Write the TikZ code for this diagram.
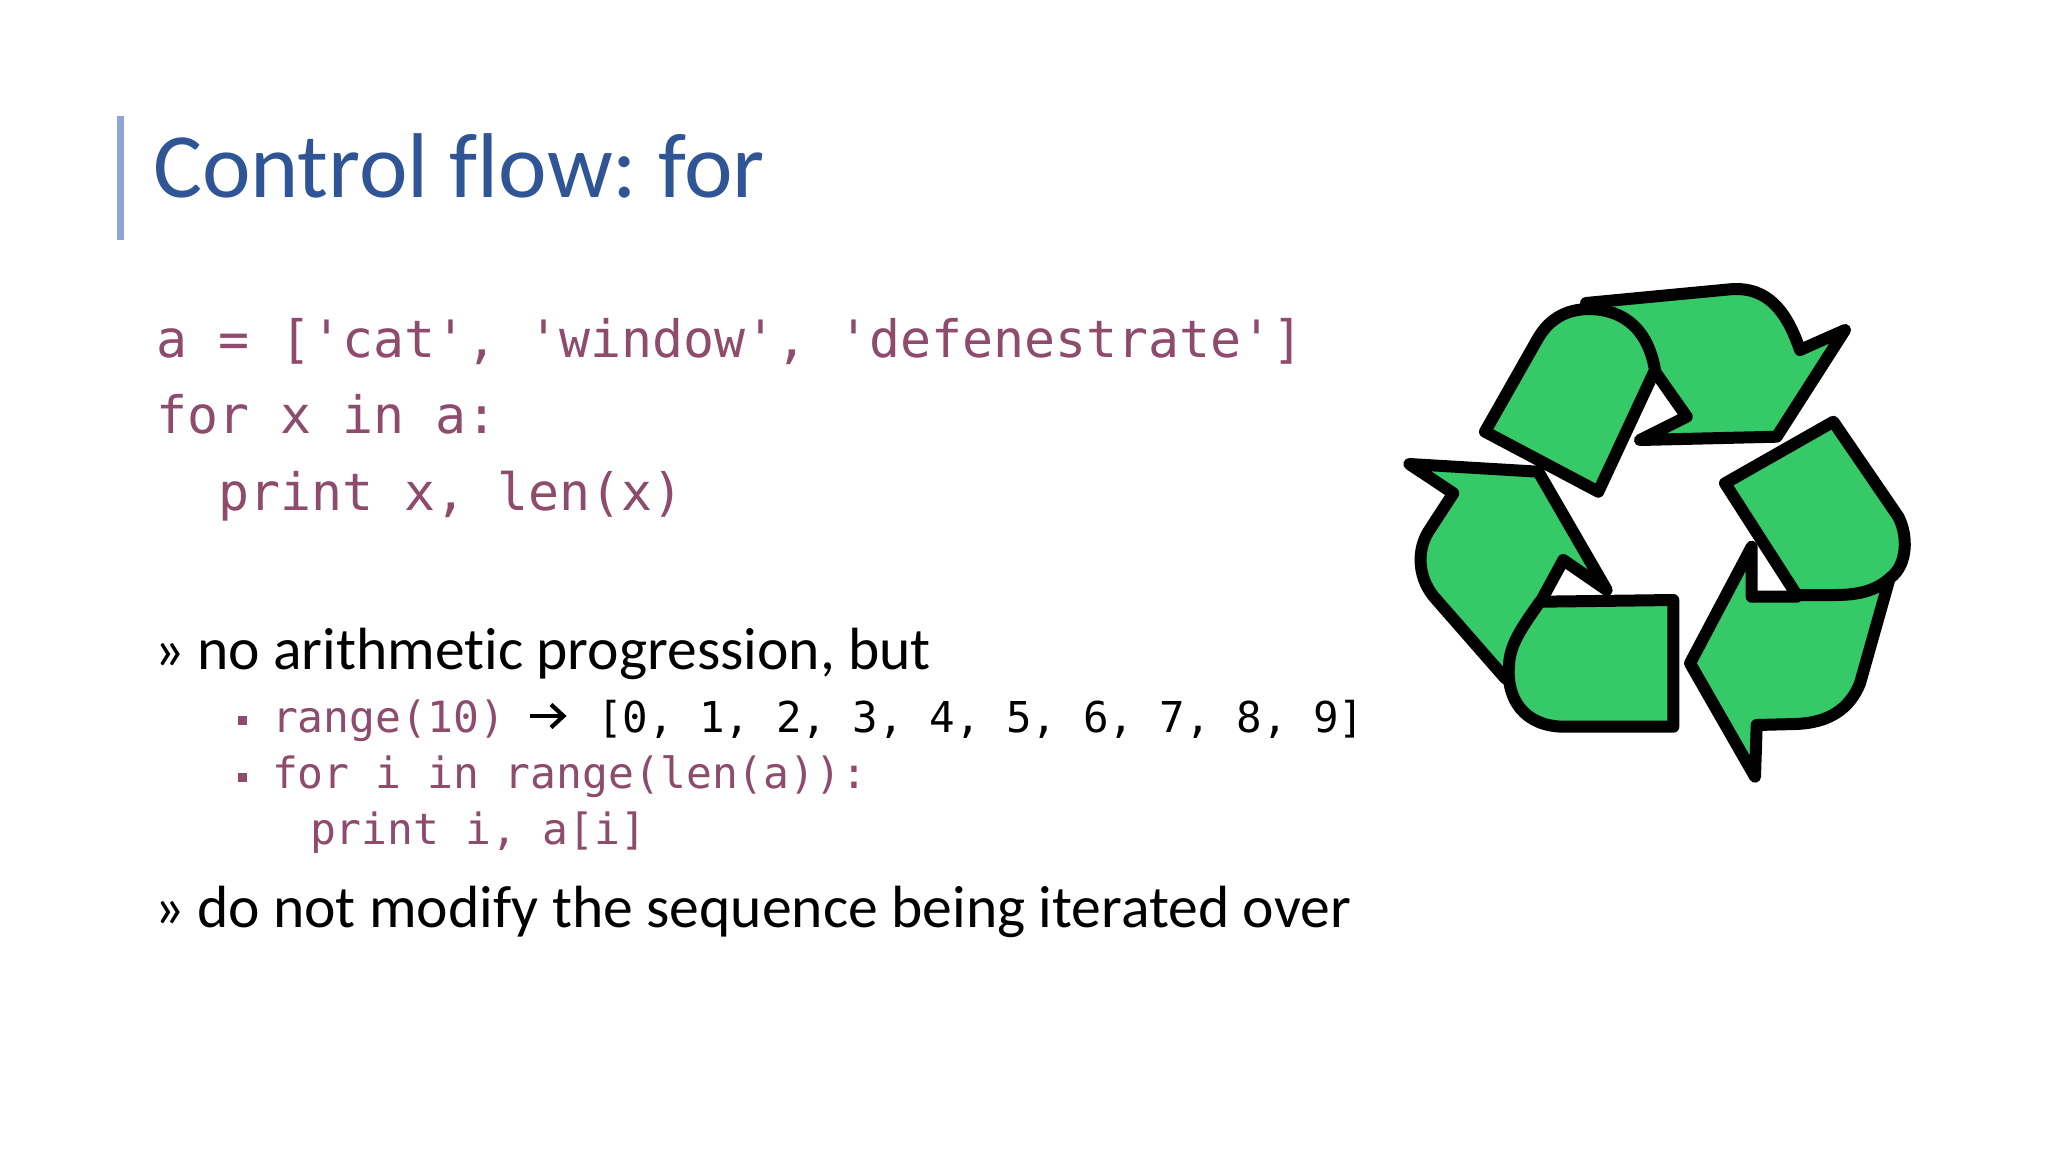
\documentclass[tikz,border=0pt]{standalone}
\usepackage{fontspec}
\setmainfont{Carlito}[Ligatures=NoCommon]
\setmonofont{DejaVu Sans Mono}
\frenchspacing
\definecolor{titleblue}{RGB}{47,85,151}
\definecolor{barblue}{RGB}{143,164,219}
\definecolor{codemauve}{RGB}{142,75,108}
\definecolor{recgreen}{RGB}{54,201,104}
\tikzset{
  txt/.style={anchor=base west, inner sep=0pt, outer sep=0pt},
  titletxt/.style={txt, text=titleblue, font=\fontsize{92bp}{100bp}\selectfont},
  bodytxt/.style={txt, text=black, font=\fontsize{59.6bp}{70bp}\selectfont},
  codebig/.style={txt, text=codemauve, font=\ttfamily\fontsize{51.5bp}{60bp}\selectfont},
  codesmall/.style={txt, text=codemauve, font=\ttfamily\fontsize{43bp}{50bp}\selectfont},
  sqbullet/.style={rectangle, fill=codemauve, inner sep=0pt, minimum size=9bp},
  arrowglyph/.style={draw=black, line width=4.2bp, line cap=butt, line join=miter},
  piece/.style={fill=recgreen, draw=black, line width=12bp, line join=round},
}
\begin{document}
\begin{tikzpicture}[x=1bp,y=-1bp]
\path[use as bounding box, fill=white] (0,0) rectangle (2048,1152);
% title bar
\fill[barblue] (117,115.5) rectangle (123.5,240);
\node[titletxt] (title) at (153,197) {Control flow: for};
% code
\node[codebig] (c1) at (156,357) {a = ['cat', 'window', 'defenestrate']};
\node[codebig] (c2) at (156,433) {for x in a:};
\node[codebig] (c3) at (218,510.5) {print x, len(x)};
% bullets
\node[bodytxt] (g1) at (154,669.5) {»};
\node[bodytxt] (b1) at (197,669.5) {no arithmetic progression, but};
\node[sqbullet] (s1) at (242,720.5) {};
\node[codesmall] (r1) at (272,732) {range(10)};
\coordinate (arrA) at (530,716);
\coordinate (arrB) at (562,716);
\draw[arrowglyph] (arrA) -- (arrB);
\draw[arrowglyph] (551,704.5) -- (563.5,716) -- (551,727.5);
\node[codesmall, text=black, font=\ttfamily\fontsize{42.5bp}{50bp}\selectfont] (r1b) at (597,732) {[0, 1, 2, 3, 4, 5, 6, 7, 8, 9]};
\node[sqbullet] (s2) at (242,777) {};
\node[codesmall] (r2) at (272,788.5) {for i in range(len(a)):};
\node[codesmall] (r3) at (310,844.5) {print i, a[i]};
\node[bodytxt] (g2) at (154,927) {»};
\node[bodytxt] (b2) at (197,927) {do not modify the sequence being iterated over};
% recycling symbol
\draw[piece] (1586,303) -- (1730,289.3) .. controls (1768,286) and (1787,312) .. (1800,350)
  -- (1845,330) -- (1776.7,436.7) -- (1640,440) -- (1686.7,416.7) -- (1656,373) -- (1625,345) -- cycle;
\draw[piece] (1485,431.7) -- (1598.3,491.7) -- (1655,370)
  .. controls (1648,330) and (1625,310) .. (1590,309)
  .. controls (1565,309) and (1548,320) .. (1537,340) -- cycle;
\draw[piece] (1409.3,464) -- (1538.3,471.7) -- (1606.7,590) -- (1563.3,560) -- (1541,601)
  -- (1565,650) -- (1535,695) -- (1505,678) -- (1436.7,600)
  .. controls (1418,580) and (1416,552) .. (1428.3,531.7) -- (1453.3,493.3) -- cycle;
\draw[piece] (1673.3,600) -- (1673.3,726.7) -- (1563,726.7)
  .. controls (1525,726) and (1506,700) .. (1509,665)
  .. controls (1510,645) and (1520,630) .. (1540,601.7) -- cycle;
\draw[piece] (1751.7,546.7) -- (1751.7,596.7) -- (1796.7,596.7) -- (1840,540) -- (1885,545)
  -- (1890,577) -- (1860,683.3) .. controls (1850,708) and (1830,723) .. (1795,724)
  -- (1756.7,725) -- (1755,776.7) -- (1690,663.3) -- cycle;
\draw[piece] (1725,483.3) -- (1833.3,421.7) -- (1898.3,516.7)
  .. controls (1908,535) and (1908,565) .. (1890,578)
  .. controls (1875,592) and (1855,595) .. (1835,595) -- (1796.7,595) -- cycle;
\end{tikzpicture}
\end{document}
